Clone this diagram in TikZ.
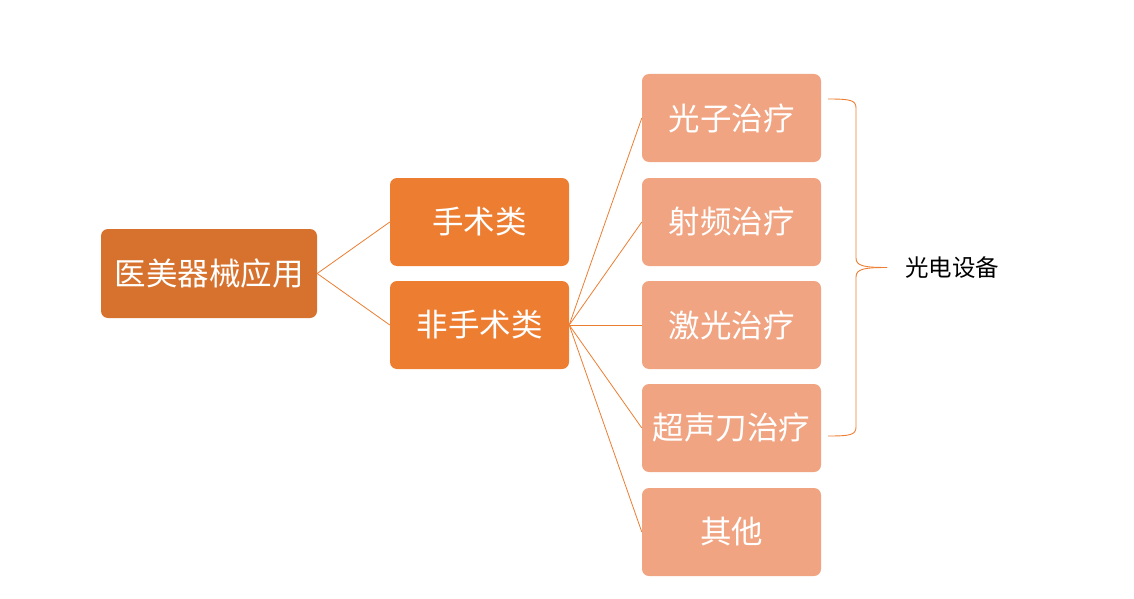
\documentclass[tikz,border=0pt]{standalone}
\usepackage{fontspec}
\newfontfamily\cjk{Noto Sans CJK SC}
\definecolor{rootc}{HTML}{D6722E}
\definecolor{midc}{HTML}{ED7D31}
\definecolor{leafc}{HTML}{F1A482}
\definecolor{linec}{HTML}{ED7D31}
\tikzset{
  box/.style={rounded corners=7pt, minimum width=179pt, minimum height=88pt, inner sep=0pt, text=white, font=\cjk\fontsize{31.5}{36}\selectfont},
  rootbox/.style={box, fill=rootc, minimum width=216pt, minimum height=89pt},
  midbox/.style={box, fill=midc},
  leafbox/.style={box, fill=leafc},
  conn/.style={draw=linec, line width=0.8pt},
}
\begin{document}
\begin{tikzpicture}[x=1pt,y=-1pt]
\useasboundingbox (0,0) rectangle (1134,599);
\node[rootbox] (root) at (209,273.5) {医美器械应用};
\node[midbox] (m1) at (479.5,222) {手术类};
\node[midbox] (m2) at (479.5,325) {非手术类};
\node[leafbox] (l1) at (731.5,118) {光子治疗};
\node[leafbox] (l2) at (731.5,222) {射频治疗};
\node[leafbox] (l3) at (731.5,325) {激光治疗};
\node[leafbox] (l4) at (731.5,428) {超声刀治疗};
\node[leafbox] (l5) at (731.5,532) {其他};
\draw[conn] (root.east) -- (m1.west);
\draw[conn] (root.east) -- (m2.west);
\foreach \n in {l1,l2,l3,l4,l5} \draw[conn] (m2.east) -- (\n.west);
\coordinate (bt) at (828,99);
\coordinate (bb) at (828,436);
\coordinate (tip) at (887,267.5);
\draw[conn, line width=0.9pt] (bt) .. controls (850,99) and (856,100) .. (856,108)
  -- (856,258) .. controls (856,266) and (864,267.5) .. (tip);
\draw[conn, line width=0.9pt] (bb) .. controls (850,436) and (856,435) .. (856,427)
  -- (856,277) .. controls (856,269) and (864,267.5) .. (tip);
\node[font=\cjk\fontsize{23.5}{27}\selectfont, text=black, anchor=west, inner sep=0pt] (lab) at (905,268) {光电设备};
\end{tikzpicture}
\end{document}
